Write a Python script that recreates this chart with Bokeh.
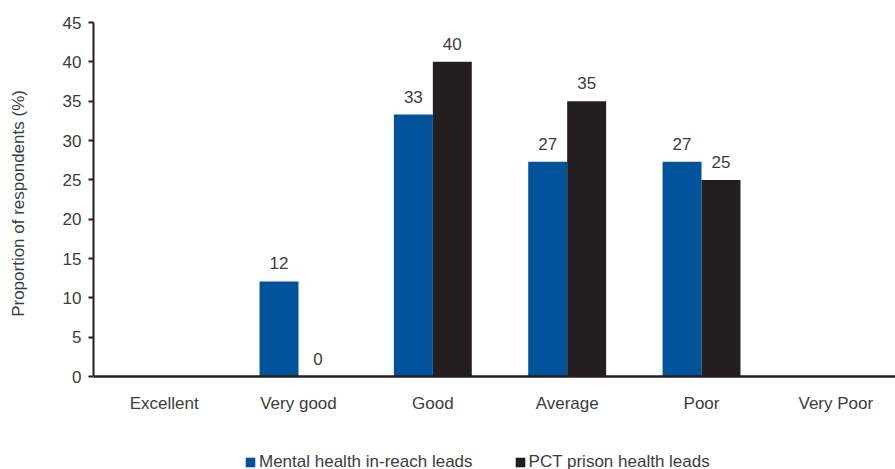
from bokeh.plotting import figure
from bokeh.models import (ColumnDataSource, Range1d, SingleIntervalTicker, FixedTicker,
                          Legend, LegendItem)
from bokeh.transform import dodge
from bokeh.core.properties import value
from bokeh.embed import file_html
from bokeh.resources import INLINE

categories = ["Excellent", "Very good", "Good", "Average", "Poor", "Very Poor"]
mental_health = [None, 12.1, 33.3, 27.3, 27.3, None]
pct_prison = [None, 0.0, 40.0, 35.0, 25.0, None]
series_names = ["Mental health in-reach leads", "PCT prison health leads"]
y_label = "Proportion of respondents (%)"
y_ticks_interval = 5
y_max = 45

BLUE = "#00529b"
DARK = "#231f20"
TXT = "#3c3c3c"
FONT = "Liberation Sans"
FS = "17px"

def lab(v):
    return "" if v is None else f"{v:.0f}"

def num(v):
    return float("nan") if v is None else v

xs = list(range(len(categories)))
src = ColumnDataSource(dict(
    x=xs,
    mh=[num(v) for v in mental_health],
    pct=[num(v) for v in pct_prison],
    mh_lab=[lab(v) for v in mental_health],
    pct_lab=[lab(v) for v in pct_prison],
))

p = figure(x_range=Range1d(-0.526, len(categories) - 0.556),
           y_range=Range1d(-11.8, y_max),
           width=895, height=469, output_backend="svg", toolbar_location=None,
           min_border_left=93, min_border_right=0, min_border_top=22,
           min_border_bottom=0)
p.outline_line_color = None
p.xgrid.grid_line_color = None
p.ygrid.grid_line_color = None
p.background_fill_color = "white"

bw = 0.29
r1 = p.vbar(x=dodge("x", -bw / 2), top="mh", width=bw, source=src,
            fill_color=BLUE, line_color=None)
r2 = p.vbar(x=dodge("x", bw / 2), top="pct", width=bw, source=src,
            fill_color=DARK, line_color=None)

for col, lcol, off in (("mh", "mh_lab", -bw / 2), ("pct", "pct_lab", bw / 2)):
    p.text(x=dodge("x", off), y=col, text=lcol, source=src,
           text_align="center", text_baseline="alphabetic", y_offset=-18,
           text_font=value(FONT), text_font_size=FS, text_color=TXT)

p.yaxis.ticker = SingleIntervalTicker(interval=y_ticks_interval)
p.yaxis.bounds = (0, y_max)
p.yaxis.minor_tick_line_color = None
p.yaxis.major_tick_out = 5
p.yaxis.major_tick_in = 0
p.yaxis.major_tick_line_color = DARK
p.yaxis.major_tick_line_width = 2
p.yaxis.axis_line_color = DARK
p.yaxis.axis_line_width = 2
p.yaxis.major_label_standoff = 7
p.yaxis.major_label_text_font = FONT
p.yaxis.major_label_text_font_size = FS
p.yaxis.major_label_text_color = TXT
# leading no-break spaces lift the label so it centres on the 0-45 span
p.yaxis.axis_label = "\u00a0" * 18 + y_label
p.yaxis.axis_label_text_font = FONT
p.yaxis.axis_label_text_font_size = FS
p.yaxis.axis_label_text_font_style = "normal"
p.yaxis.axis_label_text_color = TXT
p.yaxis.axis_label_standoff = 32

p.xaxis.fixed_location = 0
p.xaxis.ticker = FixedTicker(ticks=xs)
p.xaxis.major_label_overrides = {i: c for i, c in zip(xs, categories)}
p.xaxis.major_tick_line_color = None
p.xaxis.minor_tick_line_color = None
p.xaxis.axis_line_color = DARK
p.xaxis.axis_line_width = 2.5
p.xaxis.major_label_standoff = 11
p.xaxis.major_label_text_font = FONT
p.xaxis.major_label_text_font_size = FS
p.xaxis.major_label_text_color = TXT

legend = Legend(items=[LegendItem(label=series_names[0], renderers=[r1]),
                       LegendItem(label=series_names[1], renderers=[r2])],
                orientation="horizontal", location=(151, -3),
                glyph_width=12, glyph_height=12, label_height=12,
                label_standoff=3, spacing=41,
                padding=0, margin=0, border_line_color=None,
                background_fill_alpha=0,
                label_text_font=FONT, label_text_font_size=FS,
                label_text_color=TXT)
p.add_layout(legend, "center")

open("out.html", "w").write(file_html(p, INLINE))
